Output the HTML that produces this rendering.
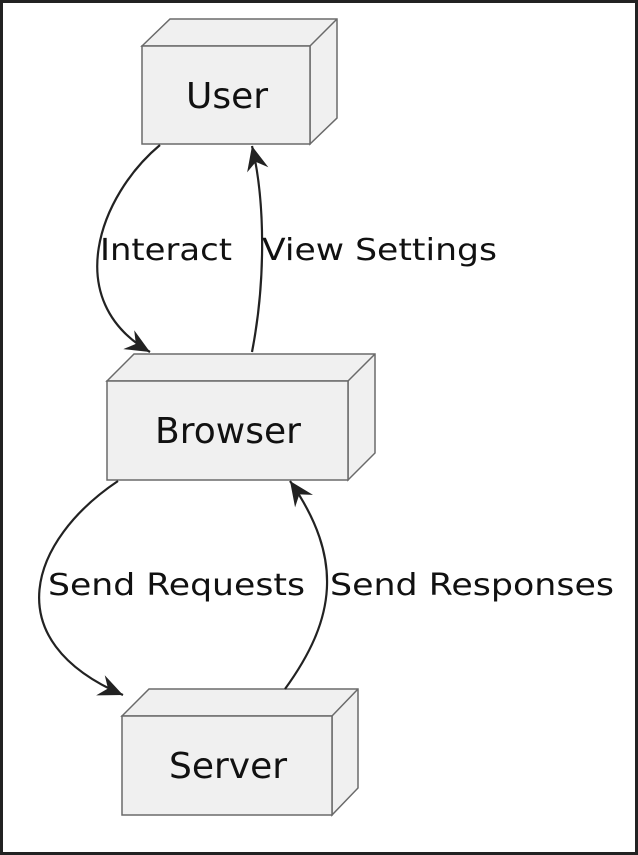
<!DOCTYPE html>
<html><head><meta charset="utf-8"><style>
html,body{margin:0;padding:0;background:#fff}
svg{display:block}
text{font-family:"DejaVu Sans","Liberation Sans",sans-serif;fill:#111}
</style></head><body>
<svg width="638" height="855" viewBox="0 0 638 855" xmlns="http://www.w3.org/2000/svg">
<defs>
<marker id="a" markerUnits="userSpaceOnUse" markerWidth="30" markerHeight="30" refX="0" refY="0" viewBox="-20 -10 22 20" orient="auto" overflow="visible">
<path d="M0,0 L-18,-8 L-12,0 L-18,8 Z" fill="#222"/>
</marker>
</defs>
<rect x="1.5" y="1.5" width="635" height="852" fill="#fff" stroke="#222" stroke-width="3"/>
<g fill="#f0f0f0" stroke="#6a6a6a" stroke-width="1.5">
<path d="M142,46 L170,19 L337,19 L337,118 L310,144 L310,46 Z"/>
<rect x="142" y="46" width="168" height="98"/>
<path d="M310,46 L337,19" fill="none"/>
<path d="M107,381 L134,354 L375,354 L375,453 L348,480 L348,381 Z"/>
<rect x="107" y="381" width="241" height="99"/>
<path d="M348,381 L375,354" fill="none"/>
<path d="M122,716 L149,689 L358,689 L358,788 L332,815 L332,716 Z"/>
<rect x="122" y="716" width="210" height="99"/>
<path d="M332,716 L358,689" fill="none"/>
</g>
<text x="227" y="108" font-size="36" text-anchor="middle">User</text>
<text x="228" y="443" font-size="36" text-anchor="middle">Browser</text>
<text x="228" y="778" font-size="36" text-anchor="middle">Server</text>
<g fill="none" stroke="#222" stroke-width="2.2">
<path d="M160,145 C100,195 60,300 150,352" marker-end="url(#a)"/>
<path d="M252,352 C266,280 265,200 252,146" marker-end="url(#a)"/>
<path d="M118,481 C30,540 -5,640 123,695" marker-end="url(#a)"/>
<path d="M285,689 C335,620 345,560 290,481" marker-end="url(#a)"/>
</g>
<text x="100" y="260" font-size="30" textLength="132" lengthAdjust="spacingAndGlyphs">Interact</text>
<text x="262" y="260" font-size="30" textLength="235" lengthAdjust="spacingAndGlyphs">View Settings</text>
<text x="48" y="595" font-size="30" textLength="257" lengthAdjust="spacingAndGlyphs">Send Requests</text>
<text x="330" y="595" font-size="30" textLength="284" lengthAdjust="spacingAndGlyphs">Send Responses</text>
</svg>
</body></html>
